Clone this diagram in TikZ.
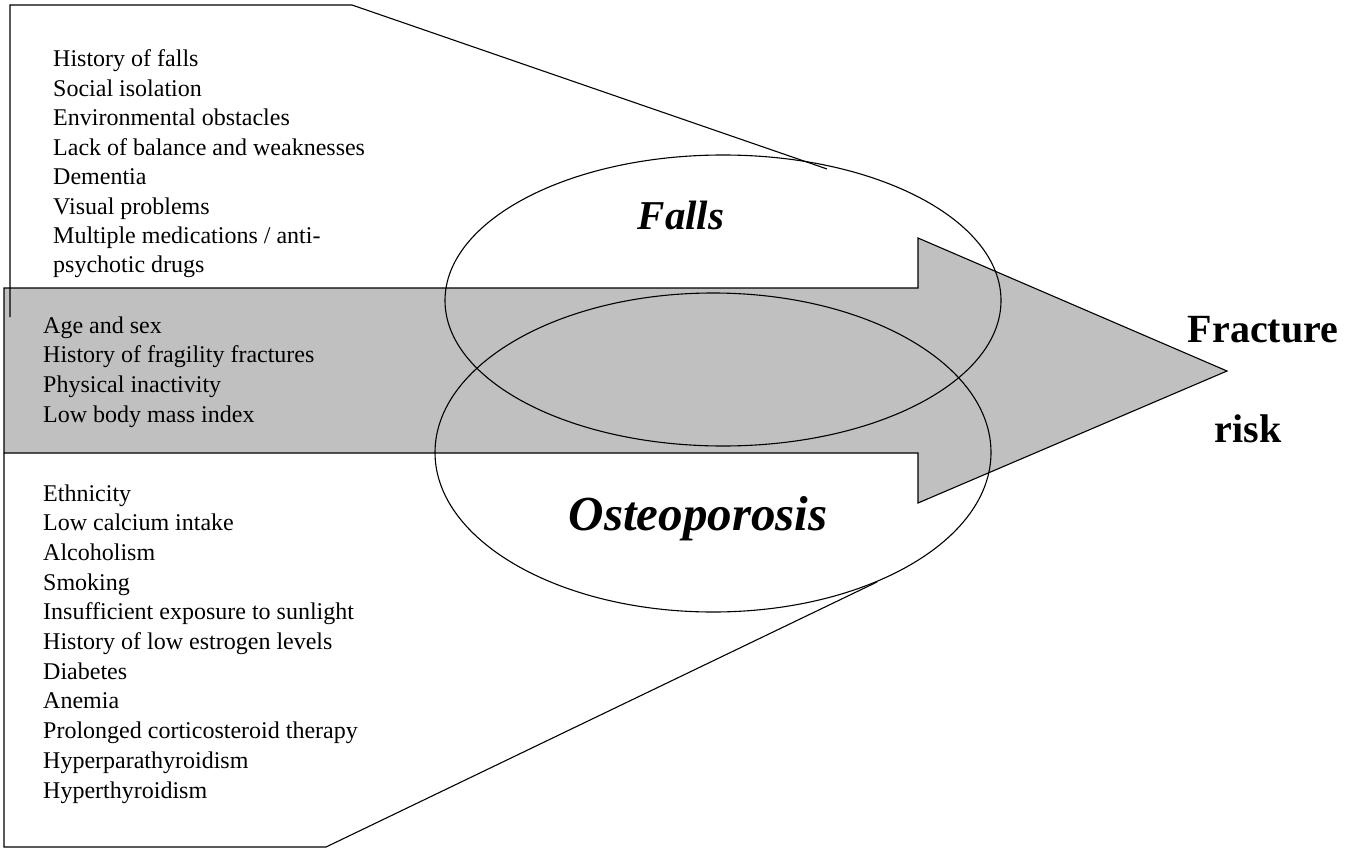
\documentclass[tikz,border=0pt]{standalone}
\usepackage{fontspec}
\setmainfont{Liberation Serif}
\definecolor{arrowgray}{RGB}{192,192,192}
\begin{document}
\begin{tikzpicture}[x=1pt,y=-1pt,
  outline/.style={draw=black,line width=1.1pt,line join=miter},
  item/.style={inner sep=0pt,anchor=base west,font=\fontsize{24}{28}\selectfont},
  big/.style={inner sep=0pt,anchor=base,font=\fontsize{41}{48}\selectfont\bfseries\itshape},
  bigger/.style={inner sep=0pt,anchor=base,font=\fontsize{49}{56}\selectfont\bfseries\itshape},
  endlabel/.style={inner sep=0pt,anchor=base,font=\fontsize{40}{48}\selectfont\bfseries}]
\useasboundingbox[fill=white] (0,0) rectangle (1356,848);
% big gray arrow
\path[outline,fill=arrowgray] (4,288) -- (918,288) -- (918,238) -- (1227,371) -- (918,503) -- (918,453) -- (4,453) -- cycle;
% top callout
\coordinate (tc1) at (10,317);
\coordinate (tc2) at (10,5);
\coordinate (tc3) at (352,5);
\coordinate (tc4) at (827,169);
\draw[outline] (tc1) -- (tc2) -- (tc3) -- (tc4);
% bottom callout
\coordinate (bc1) at (4,453);
\coordinate (bc2) at (4,847);
\coordinate (bc3) at (326,847);
\coordinate (bc4) at (877,582);
\draw[outline] (bc1) -- (bc2) -- (bc3) -- (bc4);
% ellipses
\draw[outline] (723,300.5) ellipse [x radius=278, y radius=145.5];
\draw[outline] (713,452.5) ellipse [x radius=278, y radius=159.5];
% lists
\foreach \t [count=\i] in {History of falls,Social isolation,Environmental obstacles,Lack of balance and weaknesses,Dementia,Visual problems,Multiple medications / anti-,psychotic drugs}
  \node[item] (fa\i) at (53,{67+29.4*(\i-1)}) {\t};
\foreach \t [count=\i] in {Age and sex,History of fragility fractures,Physical inactivity,Low body mass index}
  \node[item] (co\i) at (43,{333+29.7*(\i-1)}) {\t};
\foreach \t [count=\i] in {Ethnicity,Low calcium intake,Alcoholism,Smoking,Insufficient exposure to sunlight,History of low estrogen levels,Diabetes,Anemia,Prolonged corticosteroid therapy,Hyperparathyroidism,Hyperthyroidism}
  \node[item] (os\i) at (43,{501+29.7*(\i-1)}) {\t};
% labels
\node[big] (falls) at (681,229) {Falls};
\node[bigger] (osteo) at (698,530) {Osteoporosis};
\node[endlabel] (fracture) at (1263,342) {Fracture};
\node[endlabel] (risk) at (1248,442) {risk};
\end{tikzpicture}
\end{document}
